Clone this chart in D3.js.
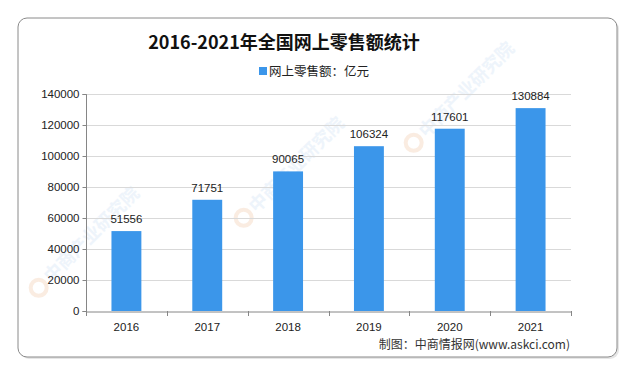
<!DOCTYPE html>
<html><head><meta charset="utf-8">
<script src="https://cdn.jsdelivr.net/npm/d3@7"></script>
<style>body{margin:0;background:#fff;}svg{display:block;}</style>
</head><body>
<svg id="c" width="634" height="374"></svg>
<script>
const categories = ["2016","2017","2018","2019","2020","2021"];
const values = [51556, 71751, 90065, 106324, 117601, 130884];
const yTicks = [0,20000,40000,60000,80000,100000,120000,140000];
const titleText = "2016-2021年全国网上零售额统计";
const legendText = "网上零售额：亿元";
const sourceText = "制图：中商情报网(www.askci.com)";
const watermarkText = "中商产业研究院";

const svg = d3.select("#c");
const cjk = "'Noto Sans CJK SC', sans-serif";
const num = "'Liberation Sans', Arial, sans-serif";

// frame with shadow
svg.append("rect").attr("x",20).attr("y",20).attr("width",599).attr("height",339).attr("rx",9)
  .attr("fill","#e6e6e6");
svg.append("rect").attr("x",18).attr("y",18).attr("width",599).attr("height",339).attr("rx",9)
  .attr("fill","#fff").attr("stroke","#8a8a8a").attr("stroke-width",1);

// faint watermarks
const wm = [[255,215],[425,140],[50,285]];
const wg = svg.append("g");
wm.forEach(([x,y])=>{
  const g = wg.append("g").attr("transform",`translate(${x},${y}) rotate(-45)`);
  g.append("circle").attr("cx",-10).attr("cy",-6).attr("r",8).attr("fill","none")
   .attr("stroke","#f6d9c3").attr("stroke-width",4).attr("opacity",0.5);
  g.append("text").attr("x",2).attr("y",0).attr("font-family",cjk).attr("font-size",18)
   .attr("font-weight","bold").attr("fill","#e3eef9").attr("opacity",0.6).text(watermarkText);
});

const m = {left:86, right:571, top:94, bottom:311};
const x = d3.scaleBand().domain(categories).range([m.left, m.right]).paddingInner(0.63).paddingOuter(0.315);
const xb = d3.scaleBand().domain(categories).range([m.left, m.right]);
const y = d3.scaleLinear().domain([0,140000]).range([m.bottom, m.top]);

// gridlines
svg.append("g").selectAll("line").data(yTicks.filter(d=>d>0)).join("line")
  .attr("x1",m.left).attr("x2",m.right).attr("y1",d=>y(d)+0.5).attr("y2",d=>y(d)+0.5)
  .attr("stroke","#d9d9d9");

// y axis
const ya = svg.append("g").attr("transform",`translate(${m.left+0.5},0)`)
  .call(d3.axisLeft(y).tickValues(yTicks).tickSize(4).tickPadding(3).tickFormat(d3.format("d")));
ya.select(".domain").attr("stroke","#868686").attr("d",`M-4,${m.top+0.5}H0V${m.bottom+0.5}H-4`);
ya.selectAll(".tick line").attr("stroke","#868686");
ya.selectAll("text").attr("font-family",num).attr("font-size",11.5).attr("fill","#222");

// bars
svg.append("g").selectAll("rect").data(values).join("rect")
  .attr("x",(d,i)=>x(categories[i])).attr("width",x.bandwidth())
  .attr("y",d=>y(d)).attr("height",d=>m.bottom-y(d)).attr("fill","#3b96ea");

// x axis
const xa = svg.append("g").attr("transform",`translate(0,${m.bottom+0.5})`)
  .call(d3.axisBottom(xb).tickSize(0).tickPadding(11));
xa.select(".domain").attr("stroke","#868686");
xa.selectAll("text").attr("font-family",num).attr("font-size",11.5).attr("fill","#222");
svg.append("g").selectAll("line").data(d3.range(categories.length+1)).join("line")
  .attr("x1",i=>Math.round(m.left + i*xb.step())+0.5).attr("x2",i=>Math.round(m.left + i*xb.step())+0.5)
  .attr("y1",m.bottom).attr("y2",m.bottom+5).attr("stroke","#868686");

// value labels
svg.append("g").selectAll("text").data(values).join("text")
  .attr("x",(d,i)=>x(categories[i])+x.bandwidth()/2).attr("y",d=>y(d)-8)
  .attr("text-anchor","middle").attr("font-family",num).attr("font-size",11.5).attr("fill","#222")
  .text(d=>d);

// title
svg.append("text").attr("x",284).attr("y",49).attr("text-anchor","middle")
  .attr("font-family",cjk).attr("font-weight","bold").attr("font-size",18).attr("fill","#111")
  .text(titleText);

// legend
svg.append("rect").attr("x",259).attr("y",67).attr("width",8).attr("height",8).attr("fill","#3b96ea");
svg.append("text").attr("x",269).attr("y",75.5).attr("font-family",cjk).attr("font-size",12.5).attr("fill","#222")
  .text(legendText);

// source
svg.append("text").attr("x",570).attr("y",349).attr("text-anchor","end")
  .attr("font-family",cjk).attr("font-size",12).attr("fill","#333").text(sourceText);
</script>
</body></html>
